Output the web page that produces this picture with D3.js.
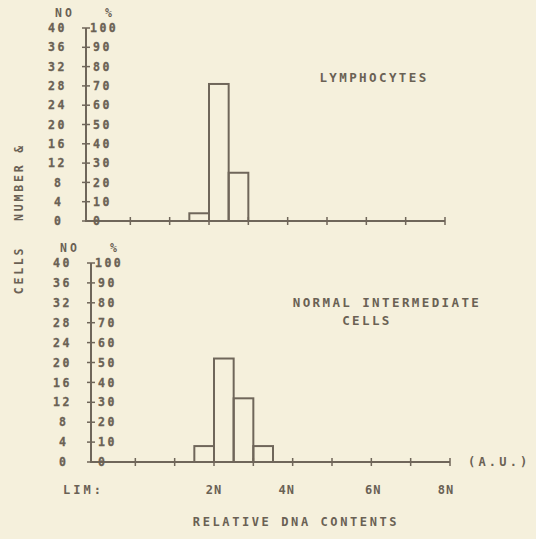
<!DOCTYPE html>
<html><head><meta charset="utf-8">
<script src="https://cdn.jsdelivr.net/npm/d3@7"></script>
<style>
html,body{margin:0;padding:0;background:#f5f0dc;}
svg{display:block;}
text{font-family:"DejaVu Sans Mono",monospace;font-weight:bold;fill:#6a6154;}
</style></head>
<body>
<script>
// ---- data ----
const classTicks = [1,2,3,4,5,6,7,8,9];
const countTicks = [0,4,8,12,16,20,24,28,32,36,40];
const pctTicks = [0,10,20,30,40,50,60,70,80,90,100];
const binWidth = 0.5;
const lymphBins = [2.5, 3, 3.5];
const lymphPct = [4, 71, 25];
const interBins = [2.5, 3, 3.5, 4];
const interPct = [8, 52, 32, 8];
const ploidyLabels = ["2N","4N","6N","8N"];
const ploidyPos = [3, 4.85, 7.05, 8.9];

const W = 536, H = 539;
const ink = "#6f665a";
const svg = d3.select("body").append("svg").attr("width", W).attr("height", H);
svg.append("rect").attr("width", W).attr("height", H).attr("fill", "#f5f0dc");

const panels = [
  {title:["LYMPHOCYTES"], titleX:[374], titleY:[77], bins:lymphBins, pct:lymphPct,
   xr:[91,445], yr:[221,28]},
  {title:["NORMAL INTERMEDIATE","CELLS"], titleX:[387,367], titleY:[302,320], bins:interBins, pct:interPct,
   xr:[96,450], yr:[462,263]}
];

panels.forEach(p => {
  const x = d3.scaleLinear().domain([0,9]).range(p.xr);
  const yC = d3.scaleLinear().domain([0,40]).range(p.yr);
  const yP = d3.scaleLinear().domain([0,100]).range(p.yr);
  const ax = p.xr[0] - 5;
  const g = svg.append("g");

  // bars
  g.selectAll("rect.bar").data(p.pct).join("rect")
    .attr("x", (d,i) => x(p.bins[i]))
    .attr("width", (d,i) => x(p.bins[i] + binWidth) - x(p.bins[i]))
    .attr("y", d => yP(d))
    .attr("height", d => yP(0) - yP(d))
    .attr("fill", "none").attr("stroke", ink).attr("stroke-width", 2);

  // y axis line with cross ticks
  g.append("line").attr("x1", ax).attr("x2", ax).attr("y1", yC(40)).attr("y2", yC(0))
    .attr("stroke", ink).attr("stroke-width", 2);
  g.selectAll("line.yt").data(countTicks).join("line")
    .attr("x1", ax - 4).attr("x2", d => d === 0 ? ax : ax + 4)
    .attr("y1", d => yC(d)).attr("y2", d => yC(d))
    .attr("stroke", ink).attr("stroke-width", 1.5);

  // x axis
  g.append("line").attr("x1", ax - 1).attr("x2", x(9)).attr("y1", yC(0)).attr("y2", yC(0))
    .attr("stroke", ink).attr("stroke-width", 2);
  g.selectAll("line.xt").data(classTicks).join("line")
    .attr("x1", d => x(d)).attr("x2", d => x(d))
    .attr("y1", yC(0) - 4).attr("y2", yC(0) + 4)
    .attr("stroke", ink).attr("stroke-width", 1.5);

  // count labels
  g.selectAll("text.nc").data(countTicks).join("text")
    .attr("x", d => d < 10 ? ax - 32 : ax - 38).attr("y", d => yC(d)).attr("dy", "0.36em")
    .attr("font-size", 11.5).attr("letter-spacing", 2.5)
    .attr("stroke", "#6a6154").attr("stroke-width", 0.3)
    .text(d => d);
  // percent labels
  g.selectAll("text.pc").data(pctTicks).join("text")
    .attr("x", d => d === 100 ? ax + 4 : ax + 7).attr("y", d => yP(d)).attr("dy", "0.36em")
    .attr("font-size", 11.5).attr("letter-spacing", 2.5)
    .attr("stroke", "#6a6154").attr("stroke-width", 0.3)
    .text(d => d);
  // headers
  g.append("text").attr("x", ax - 31).attr("y", yC(40) - 15).attr("dy","0.36em")
    .attr("font-size", 11.5).attr("letter-spacing", 3).text("NO");
  g.append("text").attr("x", ax + 19).attr("y", yC(40) - 15).attr("dy","0.36em")
    .attr("font-size", 11.5).text("%");

  // title
  p.title.forEach((t,i) => {
    g.append("text").attr("x", p.titleX[i]).attr("y", p.titleY[i]).attr("dy","0.36em")
      .attr("text-anchor","middle").attr("font-size", 12.5).attr("letter-spacing", 2.4)
      .text(t);
  });
  p.x = x; p.yC = yC;
});

// bottom-panel annotations
const bp = panels[1];
svg.selectAll("text.pl").data(ploidyLabels).join("text")
  .attr("x", (d,i) => bp.x(ploidyPos[i])).attr("y", 490).attr("dy","0.36em")
  .attr("text-anchor","middle").attr("font-size", 12).attr("letter-spacing", 1)
  .text(d => d);
svg.append("text").attr("x", 63).attr("y", 490).attr("dy","0.36em")
  .attr("font-size", 12).attr("letter-spacing", 3).text("LIM:");
svg.append("text").attr("x", 468).attr("y", 462).attr("dy","0.36em")
  .attr("font-size", 12).attr("letter-spacing", 3.2).text("(A.U.)");
svg.append("text").attr("x", 296).attr("y", 522).attr("dy","0.36em")
  .attr("text-anchor","middle").attr("font-size", 12).attr("letter-spacing", 2.6)
  .text("RELATIVE DNA CONTENTS");

// rotated side label
svg.append("text").attr("transform","translate(19,182) rotate(-90)").attr("dy","0.36em")
  .attr("text-anchor","middle").attr("font-size", 11.5).attr("letter-spacing", 2.8)
  .text("NUMBER &");
svg.append("text").attr("transform","translate(19,270) rotate(-90)").attr("dy","0.36em")
  .attr("text-anchor","middle").attr("font-size", 11.5).attr("letter-spacing", 2.8)
  .text("CELLS");
</script>
</body></html>
